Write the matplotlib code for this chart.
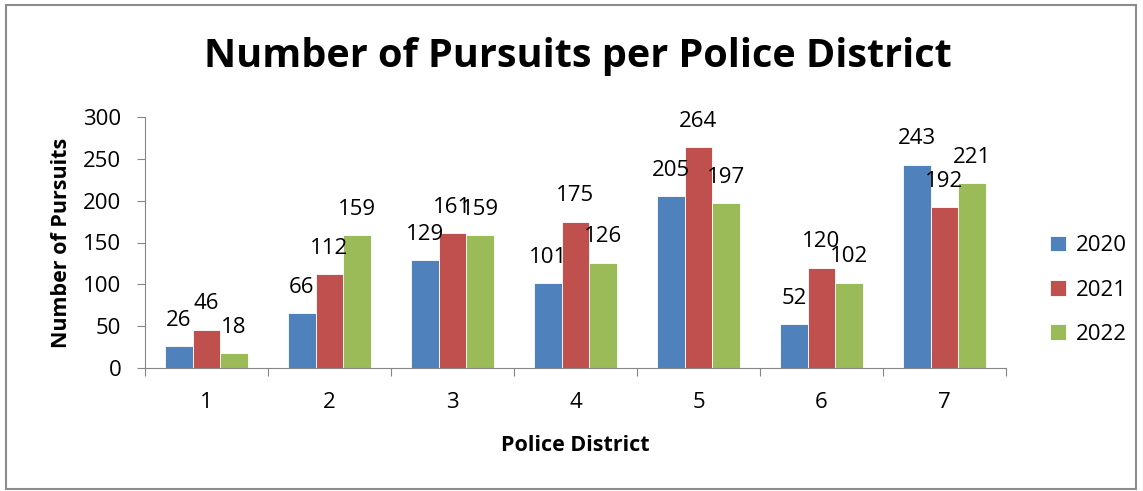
import matplotlib.pyplot as plt
import numpy as np
from matplotlib.patches import Rectangle

plt.rcParams["font.family"] = ["Open Sans", "DejaVu Sans"]

districts = ['1', '2', '3', '4', '5', '6', '7']
years = ['2020', '2021', '2022']
pursuits_2020 = [26, 66, 129, 101, 205, 52, 243]
pursuits_2021 = [46, 112, 161, 175, 264, 120, 192]
pursuits_2022 = [18, 159, 159, 126, 197, 102, 221]
colors = ['#4F81BD', '#C0504D', '#9BBB59']

W, H = 1143, 491
fig = plt.figure(figsize=(W / 100, H / 100), dpi=100)
ax = fig.add_axes([145 / W, 1 - 368 / H, (1006 - 145) / W, (368 - 117) / H])

# chart border
fig.patches.append(Rectangle((6 / W, 2 / H), 1130 / W, 484 / H, transform=fig.transFigure,
                             fill=False, edgecolor='#8c8c8c', linewidth=1.5))

x = np.arange(len(districts))
bw = 0.225
series = [pursuits_2020, pursuits_2021, pursuits_2022]
for i, vals in enumerate(series):
    pos = x + (i - 1) * bw
    ax.bar(pos, vals, bw, color=colors[i], edgecolor='white', linewidth=0.6,
           label=years[i], zorder=2)
    for p, v in zip(pos, vals):
        ax.annotate(str(v), (p, v), xytext=(0, 11), textcoords='offset points',
                    ha='center', va='bottom', fontsize=16)

ax.set_xlim(-0.5, len(districts) - 0.5)
ax.set_ylim(0, 300)
ax.set_yticks(range(0, 301, 50))
ax.set_xticks(np.arange(-0.5, len(districts), 1))
ax.set_xticklabels([])
ax.set_xticks(x, minor=True)
ax.set_xticklabels(districts, minor=True)
ax.tick_params(axis='x', which='minor', length=0, pad=17, labelsize=16)
ax.tick_params(axis='x', which='major', length=6, color='#868686', direction='out')
ax.tick_params(axis='y', length=6, color='#868686', labelsize=16, pad=11)
for s in ['top', 'right']:
    ax.spines[s].set_visible(False)
ax.spines['left'].set_color('#868686')
ax.spines['bottom'].set_color('#868686')

ax.set_xlabel('Police District', fontsize=15.5, fontweight='bold', labelpad=16)
ax.set_ylabel('Number of Pursuits', fontsize=15.5, fontweight='bold', labelpad=8)
fig.text(578 / W, 1 - 57 / H, 'Number of Pursuits per Police District',
         ha='center', va='center', fontsize=28.5, fontweight='bold')

ax.legend(loc='center left', bbox_to_anchor=(1030 / W, 1 - 290 / H),
          bbox_transform=fig.transFigure, frameon=False, fontsize=16,
          handlelength=0.7, handleheight=0.7, labelspacing=1.05, handletextpad=0.45)

plt.savefig('out.png', dpi=100)
